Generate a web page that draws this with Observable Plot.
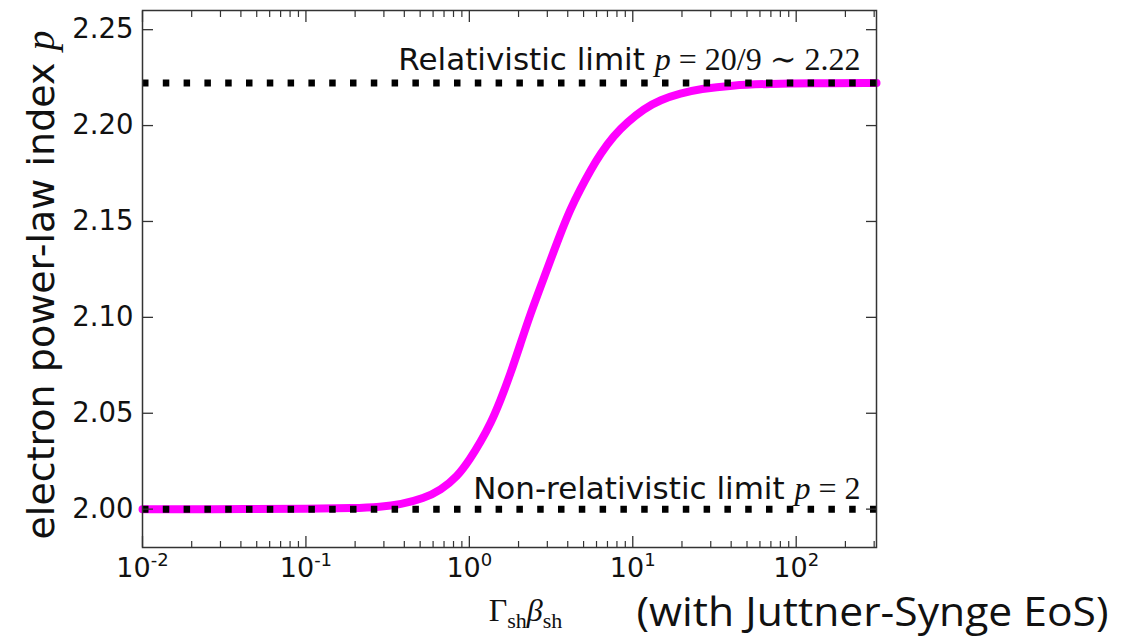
<!DOCTYPE html>
<html><head><meta charset="utf-8">
<script src="https://cdn.jsdelivr.net/npm/d3@7"></script>
<script src="https://cdn.jsdelivr.net/npm/@observablehq/plot@0.6"></script>
<style>
body{margin:0;background:#fff;}
#chart{width:1134px;height:636px;}
</style>
</head><body><div id="chart"></div>
<script>
// Shock four-velocity Γβ and electron power-law index p
const gammaBeta = [0.01, 0.05, 0.1, 0.2, 0.286, 0.379, 0.527, 0.667, 0.843, 1.016, 1.172, 1.349, 1.552, 1.786, 2.056, 2.366, 2.723, 3.133, 3.606, 4.159, 4.786, 5.508, 6.339, 7.656, 9.247, 11.67, 14.76, 19.59, 25.94, 40, 70, 120, 310];
const pIndex    = [2.0000, 2.0000, 2.0001, 2.0005, 2.0012, 2.0024, 2.0056, 2.0099, 2.0168, 2.0264, 2.0351, 2.0446, 2.0568, 2.0707, 2.0863, 2.1019, 2.1158, 2.1297, 2.1436, 2.1566, 2.1670, 2.1766, 2.1853, 2.1948, 2.2017, 2.2087, 2.2134, 2.2168, 2.2191, 2.2210, 2.2218, 2.2221, 2.2222];

// limits
const relLimit = [{value: 20 / 9, label: "Relativistic limit"}];
const nonRelLimit = [{value: 2, label: "Non-relativistic limit"}];
const limitValues = [2, 20 / 9];

// ticks
const yTicks = [2.00, 2.05, 2.10, 2.15, 2.20, 2.25];
const xTicks = [0.01, 0.1, 1, 10, 100];
const xTickExponents = ["-2", "-1", "0", "1", "2"];
const xTickLabels = xTickExponents.map(e => "10^" + e);
const xMinorTicks = [];
for (const k of [-2, -1, 0, 1, 2]) for (const m of [2, 3, 4, 5, 6, 7, 8, 9]) { const v = m * Math.pow(10, k); if (v <= 310) xMinorTicks.push(v); }

const xLabelMap = new Map(xTicks.map((t, i) => [t, xTickLabels[i]]));
const data = gammaBeta.map((g, i) => ({g, p: pIndex[i]}));

const tickColor = "#333";

const chart = Plot.plot({
  width: 1134,
  height: 636,
  marginLeft: 142,
  marginRight: 258,
  marginTop: 10,
  marginBottom: 89,
  x: {type: "log", domain: [0.01, 310]},
  y: {domain: [1.98, 2.26]},
  style: {fontFamily: "'DejaVu Sans', sans-serif", background: "#fff", color: "#111"},
  marks: [
    Plot.line(data, {x: "g", y: "p", stroke: "#ff00ff", strokeWidth: 8, curve: "basis"}),
    Plot.ruleY(limitValues, {stroke: "#000", strokeWidth: 7, strokeDasharray: "6.5,14.3"}),
    // inward ticks
    Plot.axisY(yTicks, {anchor: "left", tickSize: -11, fill: "none", stroke: tickColor, strokeWidth: 1.3, label: null}),
    Plot.axisY(yTicks, {anchor: "right", tickSize: -11, fill: "none", stroke: tickColor, strokeWidth: 1.3, label: null}),
    Plot.axisX(xTicks, {anchor: "bottom", tickSize: -11, fill: "none", stroke: tickColor, strokeWidth: 1.3, label: null}),
    Plot.axisX(xTicks, {anchor: "top", tickSize: -11, fill: "none", stroke: tickColor, strokeWidth: 1.3, label: null}),
    Plot.axisX(xMinorTicks, {anchor: "bottom", tickSize: -6, fill: "none", stroke: tickColor, strokeWidth: 1.2, label: null}),
    Plot.axisX(xMinorTicks, {anchor: "top", tickSize: -6, fill: "none", stroke: tickColor, strokeWidth: 1.2, label: null}),
    // tick labels
    Plot.axisY(yTicks, {anchor: "left", tickSize: 0, tickPadding: 9, tickFormat: d => d.toFixed(2), fontSize: 27.5, label: null}),
    Plot.axisX(xTicks, {anchor: "bottom", tickSize: 0, tickPadding: 10, tickFormat: d => xLabelMap.get(d), fontSize: 27, label: null}),
    Plot.frame({stroke: tickColor, strokeWidth: 1.5}),
    // annotations
    Plot.text(relLimit, {y: "value", text: "label", frameAnchor: "right", textAnchor: "end", lineAnchor: "bottom", dx: -16, dy: -13, fontSize: 31}),
    Plot.text(nonRelLimit, {y: "value", text: "label", frameAnchor: "right", textAnchor: "end", lineAnchor: "bottom", dx: -16, dy: -10, fontSize: 31}),
    // axis labels
    Plot.text(["electron power-law index"], {frameAnchor: "left", rotate: -90, textAnchor: "middle", lineAnchor: "middle", dx: -101, dy: 6, fontSize: 38}),
    Plot.text(["GammaBeta"], {frameAnchor: "bottom", textAnchor: "middle", lineAnchor: "bottom", dx: 16, dy: 73, fontSize: 32}),
    Plot.text(["(with Juttner-Synge EoS)"], {frameAnchor: "bottom-right", textAnchor: "start", lineAnchor: "bottom", dx: -240, dy: 78, fontSize: 40, fontFamily: "'Open Sans', sans-serif"})
  ]
});

// rich text (math parts)
const serif = "font-family:'Liberation Serif','DejaVu Serif',serif;";
function richify(match, parts, attrs) {
  d3.select(chart).selectAll("text").filter(function () { return this.textContent === match; }).each(function () {
    const t = d3.select(this);
    t.text(null);
    if (attrs) for (const k in attrs) t.attr(k, attrs[k]);
    for (const p of parts) {
      const s = t.append("tspan").text(p.text);
      if (p.style) s.attr("style", p.style);
      if (p.dy) s.attr("dy", p.dy);
    }
  });
}
richify("Relativistic limit", [
  {text: "Relativistic limit "},
  {text: "p", style: serif + "font-style:italic;font-size:32px;"},
  {text: " = 20/9 \u223C 2.22", style: serif + "font-size:32px;"}
]);
richify("Non-relativistic limit", [
  {text: "Non-relativistic limit "},
  {text: "p", style: serif + "font-style:italic;font-size:32px;"},
  {text: " = 2", style: serif + "font-size:32px;"}
]);
richify("electron power-law index", [
  {text: "electron power-law index "},
  {text: "p", style: serif + "font-style:italic;font-size:40px;"}
]);
richify("GammaBeta", [
  {text: "\u0393", style: serif + "font-size:32px;"},
  {text: "sh", style: serif + "font-size:22px;", dy: "7"},
  {text: "\u03B2", style: serif + "font-style:italic;font-size:32px;", dy: "-7"},
  {text: "sh", style: serif + "font-size:22px;", dy: "7"}
]);
richify("(with Juttner-Synge EoS)", [{text: "(with Juttner-Synge EoS)"}], {textLength: 472, lengthAdjust: "spacingAndGlyphs"});
xTickLabels.forEach((lab, i) => {
  richify(lab, [
    {text: "10"},
    {text: xTickExponents[i], style: "font-size:18px;", dy: "-11"}
  ]);
});

document.getElementById("chart").append(chart);
</script>
</body></html>
